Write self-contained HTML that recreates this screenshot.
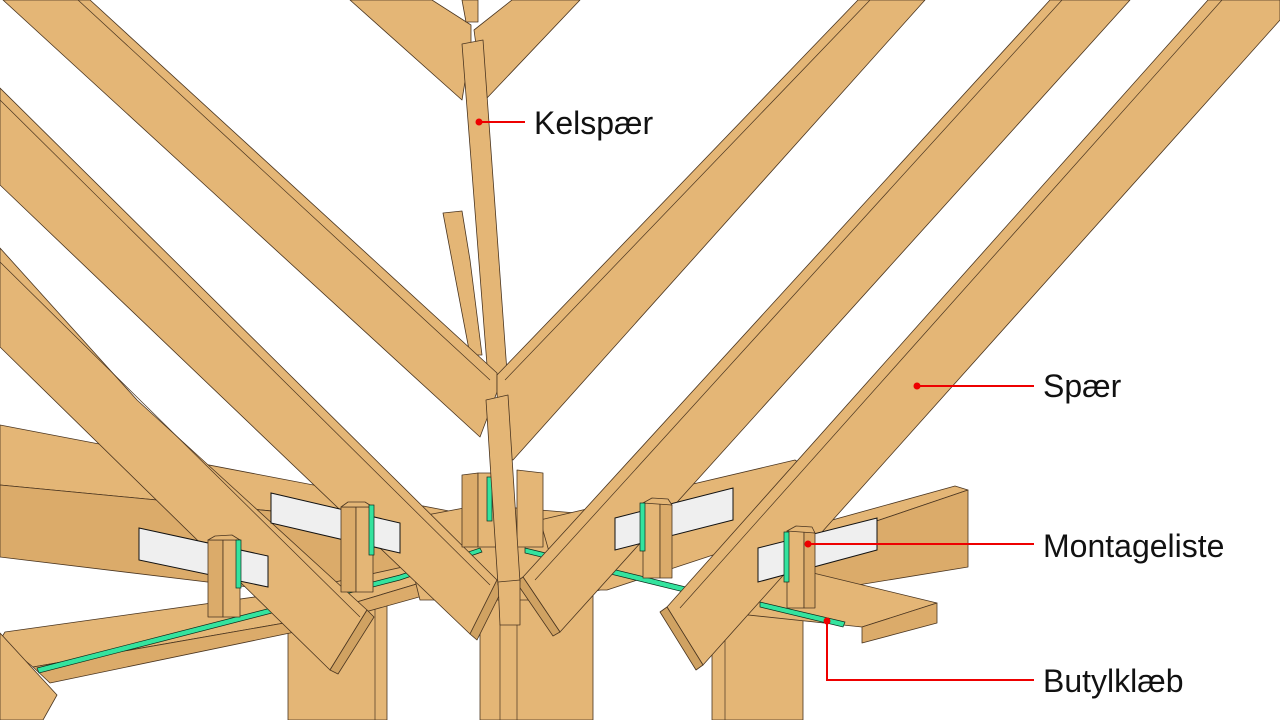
<!DOCTYPE html>
<html><head><meta charset="utf-8"><style>
html,body{margin:0;padding:0;background:#fff;}
svg{display:block;}
.w{fill:#e4b676;stroke:#4a3520;stroke-width:.8;stroke-linejoin:round}
.s{fill:#dbab6a;stroke:#4a3520;stroke-width:.8;stroke-linejoin:round}
.e{fill:#d0a262;stroke:#4a3520;stroke-width:.8;stroke-linejoin:round}
.p{fill:#efefef;stroke:#111;stroke-width:1}
.g{fill:#34e39e;stroke:#0c2a1c;stroke-width:.7}
.l{stroke:#4a3520;stroke-width:.7;fill:none}
.r{stroke:#e00;stroke-width:2;fill:none}
text{font-family:"Liberation Sans",sans-serif;font-size:32px;fill:#111}
</style></head><body>
<svg width="1280" height="720" viewBox="0 0 1280 720" xmlns="http://www.w3.org/2000/svg">
<!-- top V -->
<polygon class="w" points="350,0 432,0 471,25 471,45 462,100"/>
<polygon class="w" points="474,30 512,0 580,0 487,98 476,45"/>
<polygon class="w" points="462,0 478,0 478,22 466,22"/>
<!-- stub + kelspaer upper -->
<polygon class="w" points="443,213 462,211 470,260 482,355 470,355"/>
<polygon class="w" points="462,44 483,40 507,372 488,378"/>
<!-- posts -->
<polygon class="w" points="288,597 387,597 387,720 288,720"/>
<line class="l" x1="375" y1="597" x2="375" y2="720"/>
<polygon class="w" points="480,590 593,590 593,720 480,720"/>
<line class="l" x1="500" y1="590" x2="500" y2="720"/><line class="l" x1="517" y1="590" x2="517" y2="720"/>
<polygon class="w" points="712,615 803,615 803,720 712,720"/>
<line class="l" x1="725" y1="615" x2="725" y2="720"/>
<!-- left rear plate -->
<polygon class="w" points="0,425 470,515 470,530 0,485"/>
<polygon class="s" points="0,485 470,530 470,575 290,592 0,557"/>
<!-- lower-left front beam -->
<polygon class="w" points="0,640 5,632 290,592 470,552 480,565 290,622 33,667"/>
<polygon class="s" points="33,667 290,622 480,565 480,580 290,633 50,683"/>
<!-- center plate -->
<polygon class="w" points="400,520 480,505 600,515 640,525 640,545 600,590 560,600 420,600"/>
<!-- right rear plate -->
<polygon class="w" points="540,520 795,460 810,470 820,520 707,557 607,590 560,590"/>
<!-- right rem P1 -->
<polygon class="w" points="760,540 955,486 968,490 850,530 780,555"/>
<polygon class="s" points="780,555 850,530 968,490 968,567 815,592 790,590"/>
<!-- P2 projecting -->
<polygon class="w" points="720,590 780,565 937,603 862,627 720,612"/>
<polygon class="s" points="862,627 937,603 937,623 862,643"/>
<!-- green strips -->
<polygon class="g" points="37,668 400,575 480,548 482,552 400,580 39,673"/>
<polygon class="g" points="525,548 690,588 688,593 525,553"/>
<polygon class="g" points="760,602 845,622 843,627 760,607"/>
<!-- rafters left -->
<polygon class="w" points="0,88 497,580 470,634 0,185"/>
<line class="l" x1="0" y1="100" x2="490" y2="585"/>
<polygon class="e" points="470,634 497,580 504,586 477,640"/>
<polygon class="w" points="0,248 137,400 367,610 330,670 0,347"/>
<line class="l" x1="0" y1="262" x2="360" y2="617"/>
<polygon class="e" points="330,670 367,610 374,617 338,674"/>
<polygon class="w" points="0,633 57,695 43,720 0,720"/>
<polygon class="w" points="3,0 90,0 497,373 497,392 480,437"/>
<line class="l" x1="78" y1="0" x2="490" y2="380"/>
<!-- rafters right -->
<polygon class="w" points="497,375 858,0 925,0 513,460 500,450 497,392"/>
<line class="l" x1="505" y1="380" x2="870" y2="0"/>
<polygon class="w" points="523,577 1050,0 1130,0 560,632"/>
<line class="l" x1="535" y1="580" x2="1062" y2="0"/>
<polygon class="e" points="516,582 523,577 560,632 553,636"/>
<polygon class="w" points="667,607 1208,0 1280,0 1280,20 703,665"/>
<line class="l" x1="680" y1="608" x2="1222" y2="0"/>
<polygon class="e" points="660,612 667,607 703,665 696,670"/>
<!-- white plates & boxes -->
<polygon class="p" points="139,528 268,556 268,587 139,560"/>
<polygon class="s" points="208,540 223,540 223,617 208,617"/>
<polygon class="w" points="223,540 240,540 240,617 223,617"/>
<polygon class="w" points="208,540 215,536 232,535 240,540"/>
<rect class="g" x="236" y="540" width="5" height="48"/>
<polygon class="p" points="271,493 400,523 400,553 271,523"/>
<polygon class="s" points="341,507 356,507 356,592 341,592"/>
<polygon class="w" points="356,507 373,507 373,592 356,592"/>
<polygon class="w" points="341,507 348,502 365,502 373,507"/>
<rect class="g" x="369" y="505" width="5" height="50"/>
<polygon class="s" points="462,475 478,473 478,547 462,547"/>
<polygon class="w" points="478,473 503,473 503,547 478,547"/>
<polygon class="w" points="517,470 543,473 543,547 517,547"/>
<rect class="g" x="487" y="477" width="5" height="44"/>
<polygon class="w" points="486,400 508,395 520,582 498,585"/>
<polygon class="w" points="498,582 520,580 520,625 500,625"/>
<polygon class="p" points="615,518 733,488 733,520 615,550"/>
<polygon class="w" points="643,503 660,503 660,578 643,578"/>
<polygon class="s" points="660,503 672,505 672,578 660,578"/>
<polygon class="w" points="643,503 652,498 668,499 672,505"/>
<rect class="g" x="640" y="503" width="5" height="48"/>
<polygon class="p" points="758,548 877,518 877,550 758,582"/>
<polygon class="w" points="787,531 804,531 804,608 787,608"/>
<polygon class="s" points="804,531 815,533 815,608 804,608"/>
<polygon class="w" points="787,531 796,526 812,527 815,533"/>
<rect class="g" x="784" y="532" width="5" height="50"/>
<!-- labels -->
<circle cx="479" cy="122" r="3.5" fill="#e00"/><line class="r" x1="479" y1="122" x2="525" y2="122"/>
<text x="534" y="134">Kelspær</text>
<circle cx="917" cy="386" r="3.5" fill="#e00"/><line class="r" x1="917" y1="386" x2="1034" y2="386"/>
<text x="1043" y="397">Spær</text>
<circle cx="808" cy="544" r="3.5" fill="#e00"/><line class="r" x1="808" y1="544" x2="1034" y2="544"/>
<text x="1043" y="557">Montageliste</text>
<circle cx="827" cy="621" r="3.5" fill="#e00"/><polyline class="r" points="827,621 827,680 1034,680"/>
<text x="1043" y="692">Butylklæb</text>
</svg>
</body></html>
